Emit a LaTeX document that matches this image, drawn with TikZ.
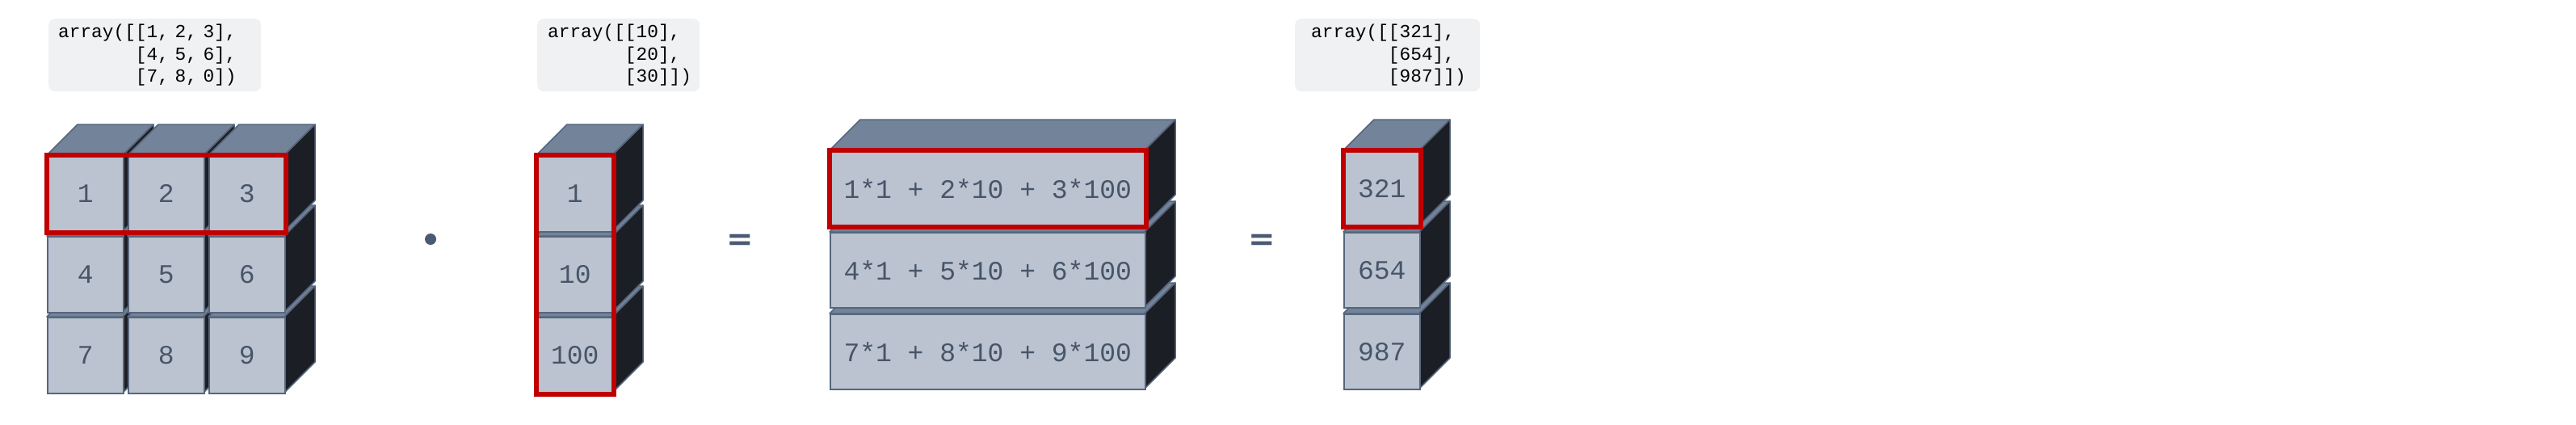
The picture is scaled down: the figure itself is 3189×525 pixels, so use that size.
\documentclass[tikz,border=0pt]{standalone}
\usepackage{fontspec}
\newfontfamily\cubefont{Liberation Mono}
\newfontfamily\codefont{Liberation Mono}
\newfontfamily\opfont{DejaVu Sans}
\usetikzlibrary{calc}
\definecolor{frontc}{HTML}{BAC3CF}
\definecolor{topc}{HTML}{738399}
\definecolor{sidec}{HTML}{1C1E25}
\definecolor{edgec}{HTML}{56667C}
\definecolor{textc}{HTML}{475569}
\definecolor{redc}{HTML}{C00000}
\definecolor{codebg}{HTML}{F0F1F3}
\definecolor{opc}{HTML}{4A5A72}
\tikzset{
  cubefront/.style={draw=edgec, fill=frontc, line width=1.5pt, inner sep=0pt,
    anchor=north west, text=textc, font=\cubefont\fontsize{33}{40}\selectfont},
  cubetop/.style={draw=edgec, fill=topc, line width=1.5pt, line join=round},
  cubeside/.style={draw=edgec, fill=sidec, line width=1.5pt, line join=round},
  redbox/.style={draw=redc, line width=6pt},
  codebox/.style={fill=codebg, rounded corners=8pt, anchor=north west,
    minimum height=90pt, align=left, inner ysep=0pt,
    font=\codefont\fontsize{22.8}{27.5}\selectfont, text=black},
  opsign/.style={text=opc, font=\opfont\bfseries\fontsize{40}{40}\selectfont, inner sep=0pt},
}
\def\dep{38}
% name, x, y, w, h, text
\newcommand\mycube[6]{%
  \draw[cubetop] (#2,#3) -- ++(\dep,-\dep) -- ++(#4,0) -- ++(-\dep,\dep) -- cycle;
  \draw[cubeside] (#2+#4,#3) -- ++(\dep,-\dep) -- ++(0,#5) -- ++(-\dep,\dep) -- cycle;
  \node[cubefront, minimum width=#4, minimum height=#5] (#1) at (#2,#3) {#6};
}
\begin{document}
\begin{tikzpicture}[x=1pt, y=-1pt]
\useasboundingbox[fill=white] (0,0) rectangle (3189,525);
% matrix A (drawn from the bottom row up)
\mycube{a31}{58}{392}{94}{94}{7}
\mycube{a32}{158}{392}{94}{94}{8}
\mycube{a33}{258}{392}{94}{94}{9}
\mycube{a21}{58}{292}{94}{94}{4}
\mycube{a22}{158}{292}{94}{94}{5}
\mycube{a23}{258}{292}{94}{94}{6}
\mycube{a11}{58}{192}{94}{94}{1}
\mycube{a12}{158}{192}{94}{94}{2}
\mycube{a13}{258}{192}{94}{94}{3}
% vector B
\mycube{b3}{664}{392}{94}{94}{100}
\mycube{b2}{664}{292}{94}{94}{10}
\mycube{b1}{664}{192}{94}{94}{1}
% expression
\mycube{e3}{1027}{388}{390}{93}{7*1 + 8*10 + 9*100}
\mycube{e2}{1027}{287}{390}{93}{4*1 + 5*10 + 6*100}
\mycube{e1}{1027}{186}{390}{93}{1*1 + 2*10 + 3*100}
% result
\mycube{r3}{1663}{388}{94}{93}{987}
\mycube{r2}{1663}{287}{94}{93}{654}
\mycube{r1}{1663}{186}{94}{93}{321}
% highlights
\draw[redbox] (a11.north west) rectangle (a13.south east);
\draw[redbox] (b1.north west) rectangle (b3.south east);
\draw[redbox] (e1.north west) rectangle (e1.south east);
\draw[redbox] (r1.north west) rectangle (r1.south east);
% code labels
\node[codebox, text width=239pt, inner xsep=12pt] (codeA) at (60,23)
  {array([[1, 2, 3],\\\phantom{array([}[4, 5, 6],\\\phantom{array([}[7, 8, 0])};
\node[codebox, text width=175pt, inner xsep=13pt] (codeB) at (665,23)
  {array([[10],\\\phantom{array([}[20],\\\phantom{array([}[30]])};
\node[codebox, text width=189pt, inner xsep=20pt] (codeR) at (1603,23)
  {array([[321],\\\phantom{array([}[654],\\\phantom{array([}[987]])};
% operators
\node[circle, fill=opc, minimum size=14pt, inner sep=0pt] (dotop) at (533,296) {};
\node[opsign] (eq1) at (916,300) {=};
\node[opsign] (eq2) at (1562,300) {=};
\end{tikzpicture}
\end{document}
